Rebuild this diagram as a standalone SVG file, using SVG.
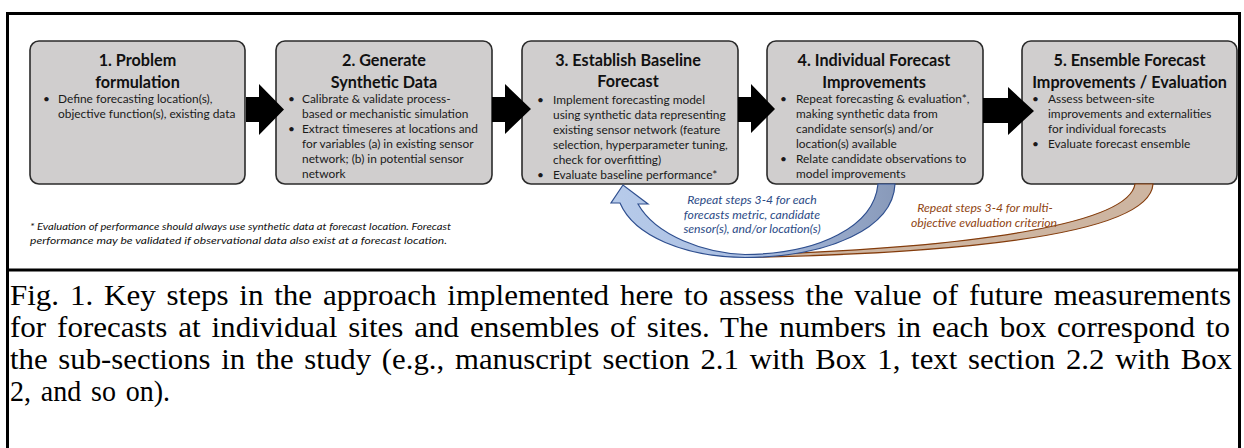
<svg xmlns="http://www.w3.org/2000/svg" width="1244" height="448" viewBox="0 0 1244 448">
<style>
.box{fill:#d0cece;stroke:#2b2b2b;stroke-width:1.6}
.t{font-family:Lato,"Open Sans",sans-serif;font-weight:bold;font-size:16.2px;fill:#111;text-anchor:middle}
.b{font-family:Lato,"Open Sans",sans-serif;font-size:11.9px;fill:#1a1a1a}
.blk{fill:#000}
.lb{font-family:Lato,"Open Sans",sans-serif;font-style:italic;font-size:12.2px;fill:#2b4a86;text-anchor:middle}
.lr{font-family:Lato,"Open Sans",sans-serif;font-style:italic;font-size:12.2px;fill:#8f4512;text-anchor:middle}
.fn{font-family:Lato,"Open Sans",sans-serif;font-style:italic;font-size:10px;fill:#111}
.cap{font-family:"Liberation Serif","Times New Roman",serif;font-size:30px;word-spacing:3px;fill:#000}
</style>
<defs>
<linearGradient id="gb" x1="610" y1="0" x2="900" y2="0" gradientUnits="userSpaceOnUse">
<stop offset="0" stop-color="#b7cbea"/>
<stop offset="0.5" stop-color="#a9bde0"/>
<stop offset="1" stop-color="#8798b8"/>
</linearGradient>
</defs>
<rect x="0" y="0" width="1244" height="448" fill="#fff"/>
<g id="frame" fill="none" stroke="#000" stroke-width="3">
<rect x="7.5" y="13.5" width="1232" height="450"/>
<line x1="7" y1="270" x2="1240" y2="270"/>
</g>

<g id="box1">
<rect class="box" x="30" y="41" width="215" height="143" rx="9"/>
<text class="t" x="137.5" y="66">1. Problem</text>
<text class="t" x="137.5" y="88">formulation</text>
<text class="b" x="43" y="103">•</text>
<text class="b" x="58" y="103">Define forecasting location(s),</text>
<text class="b" x="58" y="118">objective function(s), existing data</text>
</g>

<g id="box2">
<rect class="box" x="276" y="41" width="216" height="143" rx="9"/>
<text class="t" x="384" y="66">2. Generate</text>
<text class="t" x="384" y="88">Synthetic Data</text>
<text class="b" x="288" y="103">•</text>
<text class="b" x="302" y="103">Calibrate &amp; validate process-</text>
<text class="b" x="302" y="118">based or mechanistic simulation</text>
<text class="b" x="288" y="133">•</text>
<text class="b" x="302" y="133">Extract timeseres at locations and</text>
<text class="b" x="302" y="148">for variables (a) in existing sensor</text>
<text class="b" x="302" y="163">network; (b) in potential sensor</text>
<text class="b" x="302" y="178">network</text>
</g>

<g id="box3">
<rect class="box" x="522" y="41" width="216" height="143" rx="9"/>
<text class="t" x="628" y="66">3. Establish Baseline</text>
<text class="t" x="628" y="87">Forecast</text>
<text class="b" x="537" y="104">•</text>
<text class="b" x="553" y="104">Implement forecasting model</text>
<text class="b" x="553" y="119">using synthetic data representing</text>
<text class="b" x="553" y="134">existing sensor network (feature</text>
<text class="b" x="553" y="149">selection, hyperparameter tuning,</text>
<text class="b" x="553" y="164">check for overfitting)</text>
<text class="b" x="537" y="179">•</text>
<text class="b" x="553" y="179">Evaluate baseline performance*</text>
</g>

<g id="box4">
<rect class="box" x="767" y="41" width="216" height="143" rx="9"/>
<text class="t" x="874" y="66">4. Individual Forecast</text>
<text class="t" x="874" y="88">Improvements</text>
<text class="b" x="780" y="103">•</text>
<text class="b" x="796" y="103">Repeat forecasting &amp; evaluation*,</text>
<text class="b" x="796" y="118">making synthetic data from</text>
<text class="b" x="796" y="133">candidate sensor(s) and/or</text>
<text class="b" x="796" y="148">location(s) available</text>
<text class="b" x="780" y="163">•</text>
<text class="b" x="796" y="163">Relate candidate observations to</text>
<text class="b" x="796" y="178">model improvements</text>
</g>

<g id="box5">
<rect class="box" x="1022" y="41" width="215" height="143" rx="9"/>
<text class="t" x="1129.5" y="66">5. Ensemble Forecast</text>
<text class="t" x="1129.5" y="88">Improvements / Evaluation</text>
<text class="b" x="1032" y="103">•</text>
<text class="b" x="1048" y="103">Assess between-site</text>
<text class="b" x="1048" y="118">improvements and externalities</text>
<text class="b" x="1048" y="133">for individual forecasts</text>
<text class="b" x="1032" y="148">•</text>
<text class="b" x="1048" y="148">Evaluate forecast ensemble</text>
</g>

<g id="connectors">
<polygon class="blk" points="246,97 259,97 259,84 284,109.5 259,135 259,122 246,122"/>
<polygon class="blk" points="492,97 505,97 505,84 531,109 505,134 505,122 492,122"/>
<polygon class="blk" points="738,97 751,97 751,84 775,109 751,133 751,122 738,122"/>
<polygon class="blk" points="983,98 1008,98 1008,87 1034,111 1008,135 1008,123 983,123"/>
<path id="loop-brown" d="M1153,184 C1150,228 1010,252 745,257.5 L745,255 C990,247 1129,222 1135,184 Z" fill="#cdb5a1" stroke="#843c0c" stroke-width="1.2"/>
<path id="loop-blue" d="M895,184 C893,228 830,257 745,257.5 C685,257 634,236 620,203 L611,203 L623,185 L648,204 L638,204 C656,236 705,253 745,254.5 C820,254 874,226 878,184 Z" fill="url(#gb)" stroke="#2f4f8f" stroke-width="1.2"/>
</g>

<g id="labels">
<text class="lb" x="752" y="204">Repeat steps 3-4 for each</text>
<text class="lb" x="752" y="219">forecasts metric, candidate</text>
<text class="lb" x="752" y="233">sensor(s), and/or location(s)</text>
<text class="lr" x="985" y="212">Repeat steps 3-4 for multi-</text>
<text class="lr" x="984" y="227">objective evaluation criterion</text>
<text class="fn" x="30" y="230" textLength="421" lengthAdjust="spacingAndGlyphs">* Evaluation of performance should always use synthetic data at forecast location. Forecast</text>
<text class="fn" x="30" y="244" textLength="417" lengthAdjust="spacingAndGlyphs">performance may be validated if observational data also exist at a forecast location.</text>
</g>

<g id="caption">
<text class="cap" x="10" y="305" textLength="1221" lengthAdjust="spacingAndGlyphs">Fig. 1. Key steps in the approach implemented here to assess the value of future measurements</text>
<text class="cap" x="10" y="337" textLength="1220" lengthAdjust="spacingAndGlyphs">for forecasts at individual sites and ensembles of sites. The numbers in each box correspond to</text>
<text class="cap" x="10" y="369" textLength="1222" lengthAdjust="spacingAndGlyphs">the sub-sections in the study (e.g., manuscript section 2.1 with Box 1, text section 2.2 with Box</text>
<text class="cap" x="10" y="401" textLength="160" lengthAdjust="spacingAndGlyphs">2, and so on).</text>
</g>
</svg>
